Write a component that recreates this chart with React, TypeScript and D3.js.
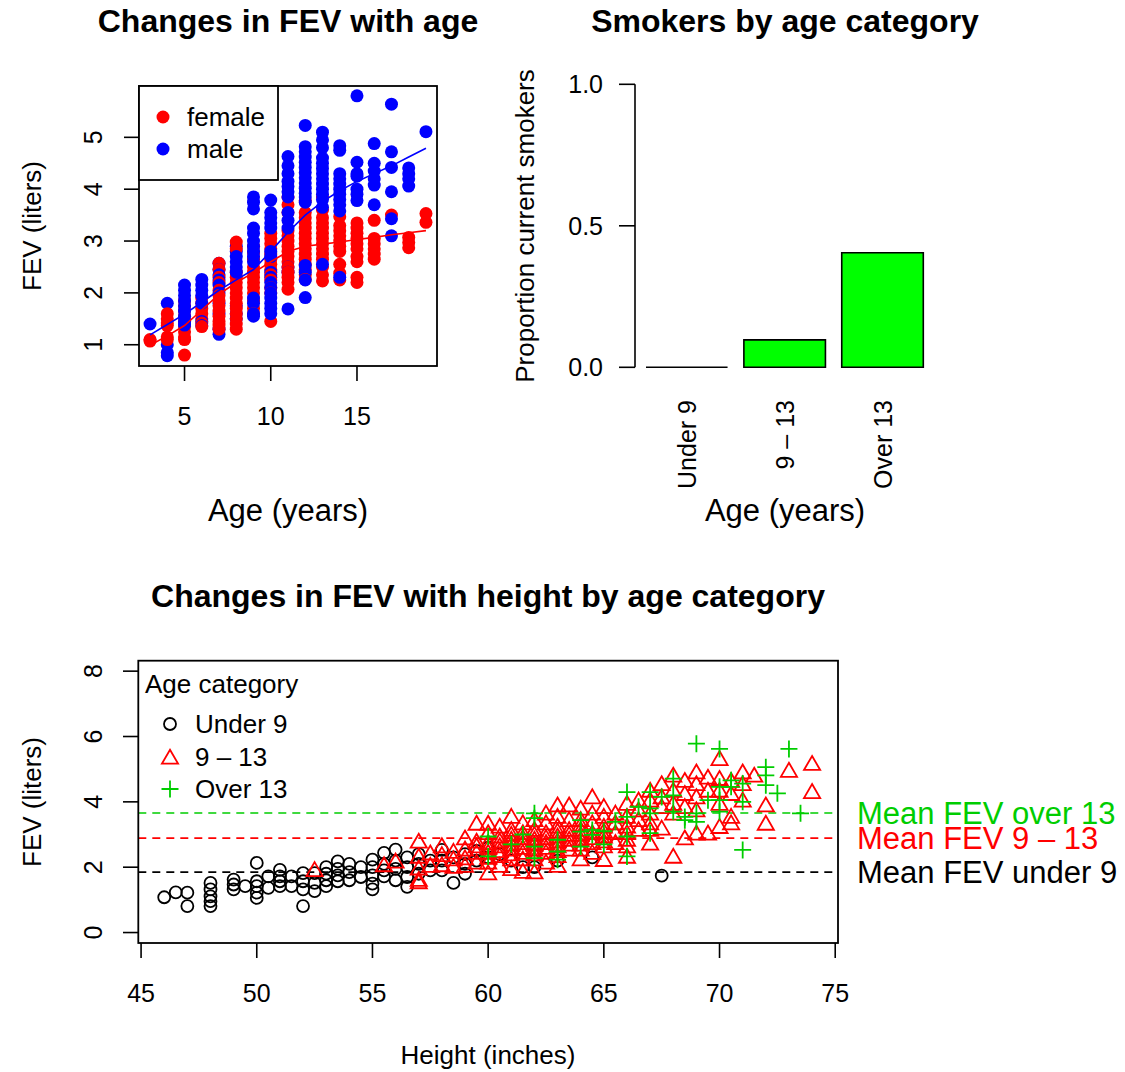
import * as d3 from "d3";
import { useEffect, useRef } from "react";

const FONT = "'Liberation Sans', Arial, Helvetica, sans-serif";

// --- FEV vs age, by sex ---
const ages = [3, 4, 5, 6, 7, 8, 9, 10, 11, 12, 13, 14, 15, 16, 17, 18, 19];
const femaleFev = [
  [1.07, 1.1],
  [1.6, 1.5, 1.42, 1.37, 1.15, 1.1],
  [1.85, 1.75, 1.65, 1.55, 1.45, 1.35, 1.25, 1.15, 1.1, 0.8],
  [1.9, 1.8, 1.7, 1.6, 1.5, 1.42, 1.35],
  [2.57, 2.45, 2.3, 2.2, 2.05, 1.95, 1.85, 1.75, 1.65, 1.55, 1.45, 1.38, 1.3],
  [2.98, 2.85, 2.4, 2.3, 2.2, 2.1, 2.0, 1.9, 1.8, 1.7, 1.6, 1.5, 1.4, 1.3],
  [2.9, 2.78, 2.65, 2.5, 2.4, 2.3, 2.2, 2.1, 2.0, 1.85, 1.7, 1.6],
  [3.15, 3.05, 2.95, 2.85, 2.75, 2.65, 2.55, 2.45, 2.35, 2.25, 2.1, 2.0, 1.45],
  [3.85, 3.7, 3.55, 3.2, 3.1, 3.0, 2.9, 2.8, 2.7, 2.6, 2.5, 2.4, 2.3, 2.2, 2.07],
  [3.78, 3.55, 3.45, 3.35, 3.25, 3.15, 3.05, 2.95, 2.85, 2.75, 2.65, 2.55, 2.45, 2.35, 2.26],
  [3.85, 3.6, 3.45, 3.35, 3.25, 3.15, 3.05, 2.95, 2.85, 2.75, 2.65, 2.5, 2.35, 2.23],
  [3.47, 3.3, 3.2, 3.1, 3.0, 2.9, 2.8, 2.55, 2.38, 2.25],
  [3.35, 3.25, 3.15, 3.05, 2.95, 2.85, 2.7, 2.6, 2.3, 2.2],
  [3.4, 3.05, 2.95, 2.85, 2.75, 2.65],
  [3.5],
  [3.07, 2.97, 2.87],
  [3.53, 3.36],
];
const maleFev = [
  [1.4],
  [1.8, 1.0, 0.85, 0.79],
  [2.15, 2.05, 1.95, 1.85, 1.75, 1.65, 1.55, 1.45, 1.38],
  [2.26, 2.15, 2.05, 1.95, 1.8, 1.45, 1.37],
  [2.57, 2.45, 2.35, 2.25, 2.15, 2.0, 1.8, 1.6, 1.3, 1.2],
  [2.9, 2.8, 2.7, 2.6, 2.5, 2.4, 1.75, 1.6, 1.5],
  [3.85, 3.75, 3.62, 3.25, 3.15, 3.0, 2.9, 2.8, 2.7, 2.6, 1.9, 1.8, 1.6, 1.55],
  [4.6, 3.79, 3.55, 3.45, 3.35, 3.25, 2.8, 2.7, 2.4, 2.3, 2.2, 2.1, 2.0, 1.9, 1.8, 1.7, 1.6],
  [4.63, 4.45, 4.3, 4.15, 4.05, 3.95, 3.85, 3.55, 3.4, 3.25, 2.5, 2.4, 1.69],
  [5.23, 4.82, 4.72, 4.62, 4.52, 4.42, 4.32, 4.22, 4.12, 4.02, 3.92, 3.85, 3.75, 2.53, 2.4, 2.25, 1.91],
  [5.1, 4.95, 4.8, 4.6, 4.5, 4.4, 4.3, 4.2, 4.1, 4.0, 3.9, 3.8, 3.65, 2.55],
  [4.84, 4.75, 4.3, 4.2, 4.1, 4.0, 3.9, 3.8, 3.7, 3.58, 2.3],
  [5.8, 4.52, 4.3, 4.25, 4.0, 3.9, 3.78],
  [4.88, 4.5, 4.35, 4.2, 4.08, 3.7],
  [5.64, 4.72, 4.42, 3.95, 3.43, 3.1],
  [4.41, 4.3, 4.2, 4.06],
  [5.11],
];
const femaleSmooth = [0.99, 1.17, 1.37, 1.67, 1.97, 2.2, 2.39, 2.6, 2.8, 2.9, 2.94, 2.98, 3.03, 3.07, 3.12, 3.16, 3.2];
const maleSmooth = [1.19, 1.39, 1.59, 1.82, 2.05, 2.25, 2.45, 2.8, 3.17, 3.5, 3.76, 3.97, 4.15, 4.3, 4.45, 4.62, 4.79];

// --- smokers by age category ---
const ageGroups = ["Under 9", "9 – 13", "Over 13"];
const smokerShare = [0, 0.097, 0.405];

// --- FEV vs height by age category: [height, fev] ---
const under9 = [
  [46, 1.08], [46.5, 1.23], [47, 1.22], [47, 0.81], [48, 1.52], [48, 1.32], [48, 1.11], [48, 0.96], [48, 0.81],
  [49, 1.62], [49, 1.47], [49, 1.32], [49.5, 1.42], [50, 2.13], [50, 1.57], [50, 1.42], [50, 1.22], [50, 1.06],
  [50.5, 1.72], [50.5, 1.37], [51, 1.92], [51, 1.72], [51, 1.57], [51, 1.42], [51.5, 1.72], [51.5, 1.42],
  [52, 1.82], [52, 1.57], [52, 1.32], [52, 0.81], [52.5, 1.82], [52.5, 1.52], [52.5, 1.27],
  [53, 2.0], [53, 1.8], [53, 1.6], [53, 1.42], [53.5, 2.18], [53.5, 1.95], [53.5, 1.75], [53.5, 1.57],
  [54, 2.1], [54, 1.85], [54, 1.6], [54.5, 2.0], [54.5, 1.7], [55, 2.23], [55, 2.0], [55, 1.75], [55, 1.5], [55, 1.32],
  [55.5, 2.44], [55.5, 2.1], [55.5, 1.9], [55.5, 1.72], [56, 2.54], [56, 2.2], [56, 1.95], [56, 1.6],
  [56.5, 2.3], [56.5, 2.0], [56.5, 1.7], [56.5, 1.4], [57, 2.4], [57, 2.1], [57, 1.8], [57.5, 2.2], [57.5, 1.9],
  [58, 2.53], [58, 2.2], [58, 1.9], [58.5, 2.3], [58.5, 1.52], [59, 2.4], [59, 2.1], [59, 1.8],
  [59.5, 2.5], [59.5, 2.2], [60, 2.6], [60, 2.3], [60.5, 2.4], [61, 2.2], [61.5, 2.0], [62, 2.0],
  [63, 2.2], [64.5, 2.3], [67.5, 1.74],
];
const age9to13 = [
  [52.5, 1.87], [55.5, 2.02], [56, 2.13], [57, 2.74], [57, 2.28], [57, 1.92], [57, 1.57], [57, 1.5],
  [57.5, 2.38], [57.5, 2.0], [58, 2.6], [58, 2.33], [58, 2.02], [58.5, 2.43], [58.5, 2.2], [58.5, 1.97],
  [59, 2.84], [59, 2.5], [59, 2.23], [59, 2.0], [59.5, 3.29], [59.5, 2.74], [59.5, 2.4], [59.5, 2.1], [59.5, 2.6],
  [60, 3.29], [60, 3.0], [60, 2.7], [60, 2.4], [60, 2.1], [60, 1.77], [60, 2.55], [60, 2.25],
  [60.5, 3.2], [60.5, 2.9], [60.5, 2.6], [60.5, 2.3], [60.5, 2.0], [60.5, 2.75], [60.5, 2.45],
  [61, 3.5], [61, 3.1], [61, 2.8], [61, 2.5], [61, 2.2], [61, 1.9], [61, 2.65], [61, 2.35], [61, 2.95],
  [61.5, 3.3], [61.5, 3.0], [61.5, 2.7], [61.5, 2.4], [61.5, 1.82], [61.5, 2.55], [61.5, 2.85], [61.5, 2.2],
  [62, 3.4], [62, 3.1], [62, 2.8], [62, 2.5], [62, 2.2], [62, 1.8], [62, 2.65], [62, 2.95], [62, 2.35],
  [62.5, 3.6], [62.5, 3.3], [62.5, 3.0], [62.5, 2.7], [62.5, 2.4], [62.5, 2.1], [62.5, 2.85], [62.5, 2.55],
  [63, 3.85], [63, 3.5], [63, 3.2], [63, 2.9], [63, 2.6], [63, 2.3], [63, 2.0], [63, 2.75], [63, 3.05], [63, 2.45],
  [63.5, 3.85], [63.5, 3.4], [63.5, 3.1], [63.5, 2.8], [63.5, 2.5], [63.5, 2.65], [63.5, 2.95],
  [64, 3.75], [64, 3.4], [64, 3.1], [64, 2.8], [64, 2.5], [64, 2.2], [64, 2.65], [64, 2.95], [64, 3.25],
  [64.5, 4.1], [64.5, 3.6], [64.5, 3.3], [64.5, 3.0], [64.5, 2.7], [64.5, 2.4], [64.5, 2.85],
  [65, 3.8], [65, 3.5], [65, 3.2], [65, 2.9], [65, 2.6], [65, 2.18], [65, 3.05], [65, 2.75],
  [65.5, 3.6], [65.5, 3.3], [65.5, 3.0], [65.5, 2.7], [66, 3.9], [66, 3.5], [66, 3.2], [66, 3.0],
  [66, 2.6], [66, 2.28], [66, 2.8], [66.5, 4.0], [66.5, 3.7], [66.5, 3.4], [66.5, 3.1],
  [67, 4.3], [67, 4.0], [67, 3.6], [67, 3.3], [67, 2.68], [67, 3.1], [67.5, 4.5], [67.5, 4.1], [67.5, 3.8], [67.5, 3.14],
  [68, 4.76], [68, 4.3], [68, 3.9], [68, 3.6], [68, 2.28], [68.5, 4.6], [68.5, 4.2], [68.5, 3.8], [68.5, 2.84],
  [69, 4.86], [69, 4.5], [69, 4.1], [69, 3.7], [69, 2.99], [69.5, 4.7], [69.5, 4.3], [69.5, 2.99],
  [70, 5.27], [70, 4.66], [70, 4.3], [70, 3.9], [70, 3.19], [70.5, 4.6], [70.5, 4.2], [70.5, 3.5], [70.5, 3.3],
  [71, 4.86], [71, 4.5], [71, 4.0], [71.5, 4.76], [72, 3.85], [72, 3.29], [73, 4.91], [74, 5.12], [74, 4.26],
];
const over13 = [
  [60, 2.94], [60, 2.33], [61, 2.7], [61.5, 3.0], [62, 3.65], [62, 3.5], [62, 2.63], [62, 2.28],
  [63, 2.84], [63, 2.48], [63, 2.23], [64, 3.44], [64, 3.09], [64, 2.63], [64.5, 3.14], [64.5, 2.99],
  [65, 3.1], [65, 2.7], [65.5, 3.39], [66, 4.3], [66, 3.54], [66, 2.94], [66, 2.33], [66.5, 3.85],
  [67, 4.3], [67, 3.8], [67, 3.65], [67, 3.04], [67.5, 4.15], [68, 4.71], [68, 4.2], [68, 3.7],
  [68.5, 3.54], [68.5, 3.44], [69, 5.78], [69, 3.65], [69, 3.39], [69.5, 4.05], [70, 5.62], [70, 4.46],
  [70, 4.05], [70, 3.7], [70.5, 4.66], [70.5, 4.46], [71, 4.56], [71, 4.0], [71, 2.53], [72, 5.06],
  [72, 4.81], [72, 4.51], [72.5, 4.26], [73, 5.62], [73.5, 3.65],
];
const groupMeans = [1.85, 2.89, 3.66];
const meanLabels = ["Mean FEV under 9", "Mean FEV 9 – 13", "Mean FEV over 13"];
const groupColors = ["#000000", "#FF0000", "#00CD00"];

function App() {
  const ref = useRef<SVGSVGElement>(null);

  useEffect(() => {
    const svg = d3.select(ref.current);
    svg.selectAll("*").remove();
    svg.style("font-family", FONT);

    const addText = (x: number, y: number, str: string, size: number, anchor = "middle", rot = 0, color = "#000", bold = false) => {
      svg
        .append("text")
        .attr("transform", `translate(${x},${y}) rotate(${rot})`)
        .attr("text-anchor", anchor)
        .style("font-size", `${size}px`)
        .style("font-weight", bold ? "bold" : "normal")
        .attr("fill", color)
        .text(str);
    };

    // ================= panel 1: FEV vs age =================
    const xA = d3.scaleLinear().domain([2.36, 19.64]).range([139, 437]);
    const yA = d3.scaleLinear().domain([0.59, 5.99]).range([366, 86]);

    const pts: { a: number; v: number; c: string }[] = [];
    ages.forEach((a, i) => {
      const f = femaleFev[i];
      const m = maleFev[i];
      const n = Math.max(f.length, m.length);
      for (let k = 0; k < n; k++) {
        if (k < m.length) pts.push({ a, v: m[k], c: "#0000FF" });
        if (k < f.length) pts.push({ a, v: f[k], c: "#FF0000" });
      }
    });

    svg.append("g")
      .selectAll("circle")
      .data(pts)
      .enter()
      .append("circle")
      .attr("cx", d => xA(d.a))
      .attr("cy", d => yA(d.v))
      .attr("r", 6.5)
      .attr("fill", d => d.c);

    const smoothLine = d3.line<number>().x((_, i) => xA(ages[i])).y(d => yA(d));
    svg.append("path").attr("d", smoothLine(maleSmooth)).attr("fill", "none").attr("stroke", "#0000FF").attr("stroke-width", 1.6);
    svg.append("path").attr("d", smoothLine(femaleSmooth)).attr("fill", "none").attr("stroke", "#FF0000").attr("stroke-width", 1.6);

    svg.append("rect")
      .attr("x", 139).attr("y", 86).attr("width", 298).attr("height", 280)
      .attr("fill", "none").attr("stroke", "#000").attr("stroke-width", 1.8);

    [5, 10, 15].forEach(t => {
      svg.append("line").attr("x1", xA(t)).attr("x2", xA(t)).attr("y1", 366).attr("y2", 381).attr("stroke", "#000").attr("stroke-width", 1.6);
      addText(xA(t), 425, String(t), 25);
    });
    [1, 2, 3, 4, 5].forEach(t => {
      svg.append("line").attr("x1", 139).attr("x2", 124).attr("y1", yA(t)).attr("y2", yA(t)).attr("stroke", "#000").attr("stroke-width", 1.6);
      addText(102, yA(t), String(t), 25, "middle", -90);
    });

    // legend
    svg.append("rect").attr("x", 139).attr("y", 86).attr("width", 139).attr("height", 94)
      .attr("fill", "#fff").attr("stroke", "#000").attr("stroke-width", 1.8);
    [["female", "#FF0000"], ["male", "#0000FF"]].forEach(([lab, col], i) => {
      svg.append("circle").attr("cx", 163).attr("cy", 117 + i * 32).attr("r", 6.5).attr("fill", col);
      addText(187, 126 + i * 32, lab, 26, "start");
    });

    addText(288, 32, "Changes in FEV with age", 32, "middle", 0, "#000", true);
    addText(288, 521, "Age (years)", 31);
    addText(41, 226, "FEV (liters)", 26, "middle", -90);

    // ================= panel 2: smokers =================
    const xB = d3.scaleLinear().domain([0.2, 3.6]).range([646, 923.3]);
    const yB = d3.scaleLinear().domain([0, 1]).range([367.3, 84.3]);

    // bars as closed paths so a zero-height bar still shows its outline
    svg.append("g")
      .selectAll("path")
      .data(smokerShare)
      .enter()
      .append("path")
      .attr("d", (d, i) => {
        const x0 = xB(0.2 + i * 1.2);
        const x1 = xB(1.2 + i * 1.2);
        return `M${x0},${yB(0)}H${x1}V${yB(d)}H${x0}Z`;
      })
      .attr("fill", "#00FF00")
      .attr("stroke", "#000")
      .attr("stroke-width", 1.6);

    svg.append("line").attr("x1", 635).attr("x2", 635).attr("y1", yB(0)).attr("y2", yB(1)).attr("stroke", "#000").attr("stroke-width", 1.6);
    [0, 0.5, 1].forEach(t => {
      svg.append("line").attr("x1", 635).attr("x2", 619).attr("y1", yB(t)).attr("y2", yB(t)).attr("stroke", "#000").attr("stroke-width", 1.6);
      addText(603, yB(t) + 9, t.toFixed(1), 25, "end");
    });
    ageGroups.forEach((g, i) => {
      addText(xB(0.7 + i * 1.2) + 9, 400, g, 25, "end", -90);
    });

    addText(785, 32, "Smokers by age category", 32, "middle", 0, "#000", true);
    addText(785, 521, "Age (years)", 31);
    addText(534, 226, "Proportion current smokers", 26, "middle", -90);

    // ================= panel 3: FEV vs height =================
    const xC = d3.scaleLinear().domain([44.88, 75.12]).range([138.3, 838]);
    const yC = d3.scaleLinear().domain([-0.32, 8.32]).range([943, 660.7]);

    groupMeans.forEach((m, i) => {
      svg.append("line")
        .attr("x1", 138.3).attr("x2", 838).attr("y1", yC(m)).attr("y2", yC(m))
        .attr("stroke", groupColors[i]).attr("stroke-width", 1.6).attr("stroke-dasharray", "8,6");
    });

    const circleAt = (g: any, x: number, y: number, col: string) =>
      g.append("circle").attr("cx", x).attr("cy", y).attr("r", 6).attr("fill", "none").attr("stroke", col).attr("stroke-width", 1.8);
    const triAt = (g: any, x: number, y: number, col: string) =>
      g.append("path")
        .attr("d", `M${x},${y - 9.3}L${x + 8.1},${y + 4.7}L${x - 8.1},${y + 4.7}Z`)
        .attr("fill", "none").attr("stroke", col).attr("stroke-width", 1.8);
    const plusAt = (g: any, x: number, y: number, col: string) =>
      g.append("path")
        .attr("d", `M${x - 8.5},${y}H${x + 8.5}M${x},${y - 8.5}V${y + 8.5}`)
        .attr("fill", "none").attr("stroke", col).attr("stroke-width", 1.8);

    const gC = svg.append("g");
    under9.forEach(([h, f]) => circleAt(gC, xC(h), yC(f), groupColors[0]));
    age9to13.forEach(([h, f]) => triAt(gC, xC(h), yC(f), groupColors[1]));
    over13.forEach(([h, f]) => plusAt(gC, xC(h), yC(f), groupColors[2]));

    svg.append("rect")
      .attr("x", 138.3).attr("y", 660.7).attr("width", 838 - 138.3).attr("height", 943 - 660.7)
      .attr("fill", "none").attr("stroke", "#000").attr("stroke-width", 1.8);

    d3.range(45, 76, 5).forEach(t => {
      svg.append("line").attr("x1", xC(t)).attr("x2", xC(t)).attr("y1", 943).attr("y2", 958).attr("stroke", "#000").attr("stroke-width", 1.6);
      addText(xC(t), 1002, String(t), 25);
    });
    [0, 2, 4, 6, 8].forEach(t => {
      svg.append("line").attr("x1", 138.3).attr("x2", 123).attr("y1", yC(t)).attr("y2", yC(t)).attr("stroke", "#000").attr("stroke-width", 1.6);
      addText(102, yC(t), String(t), 25, "middle", -90);
    });

    // legend (no box)
    addText(145, 693, "Age category", 26, "start");
    const legY = [724, 757, 789];
    circleAt(svg, 170, legY[0], groupColors[0]);
    triAt(svg, 170, legY[1] + 2, groupColors[1]);
    plusAt(svg, 170, legY[2], groupColors[2]);
    ["Under 9", "9 – 13", "Over 13"].forEach((lab, i) => addText(195, legY[i] + 9, lab, 26, "start"));

    meanLabels.forEach((lab, i) => addText(857, yC(groupMeans[i]) + 11, lab, 31, "start", 0, groupColors[i]));

    addText(488, 607, "Changes in FEV with height by age category", 32, "middle", 0, "#000", true);
    addText(488, 1064, "Height (inches)", 26);
    addText(41, 802, "FEV (liters)", 26, "middle", -90);
  }, []);

  return (
    <div style={{ position: "absolute", left: 0, top: 0, background: "#fff" }}>
      <svg ref={ref} width={1125} height={1072} style={{ display: "block" }} />
    </div>
  );
}

export default App;
